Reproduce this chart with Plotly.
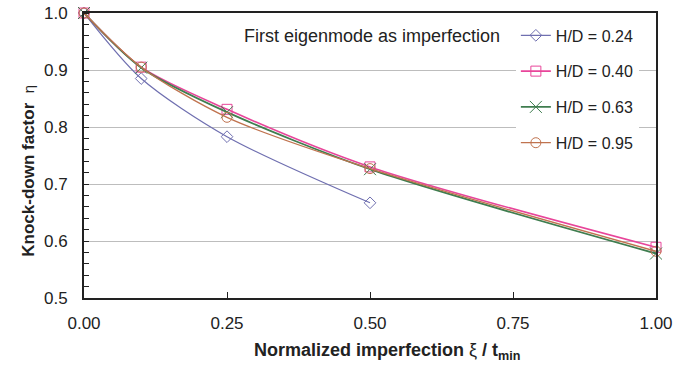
import plotly.graph_objects as go

# Knock-down factor vs normalized imperfection amplitude for several H/D ratios
xi_024 = [0.0, 0.1, 0.25, 0.5]
eta_024 = [1.0, 0.885, 0.783, 0.667]

xi_040 = [0.0, 0.1, 0.25, 0.5, 1.0]
eta_040 = [1.0, 0.905, 0.831, 0.730, 0.589]

xi_063 = [0.0, 0.1, 0.25, 0.5, 1.0]
eta_063 = [1.0, 0.904, 0.826, 0.726, 0.578]

xi_095 = [0.0, 0.1, 0.25, 0.5, 1.0]
eta_095 = [1.0, 0.905, 0.817, 0.727, 0.582]

series = [
    ("H/D = 0.24", xi_024, eta_024, "#6f6fb0", "diamond-open", 9, 1.2),
    ("H/D = 0.40", xi_040, eta_040, "#e8459a", "square-open", 10, 1.6),
    ("H/D = 0.63", xi_063, eta_063, "#3f7d4f", "x-thin-open", 12, 1.8),
    ("H/D = 0.95", xi_095, eta_095, "#c0734f", "circle-open", 10, 1.3),
]

x_ticks = [0.0, 0.25, 0.5, 0.75, 1.0]
x_tick_labels = ["0.00", "0.25", "0.50", "0.75", "1.00"]
y_ticks = [0.5, 0.6, 0.7, 0.8, 0.9, 1.0]
y_tick_labels = ["0.5", "0.6", "0.7", "0.8", "0.9", "1.0"]

FONT = "Liberation Sans, Arial, sans-serif"

fig = go.Figure()
for i, (name, xs, ys, color, symbol, size, lw) in enumerate(series):
    fig.add_trace(go.Scatter(
        x=xs, y=ys, name=name, mode="lines+markers",
        line=dict(color=color, width=lw, shape="spline", smoothing=0.8),
        marker=dict(symbol=symbol, size=size, color=color,
                    line=dict(color=color, width=1)),
        legendgroup=f"g{i}",
        cliponaxis=False,
    ))

fig.add_annotation(
    x=0.277, y=0.96, xref="x", yref="y", xanchor="left", yanchor="middle",
    text="First eigenmode as imperfection", showarrow=False,
    font=dict(family=FONT, size=18, color="#222222"),
)

# Axis titles placed as annotations
fig.add_annotation(
    x=0.531, y=-0.186, xref="paper", yref="paper",
    xanchor="center", yanchor="middle", showarrow=False,
    text="<b>Normalized imperfection</b> ξ <b>/ t<sub>min</sub></b>",
    font=dict(family=FONT, size=18, color="#222222"),
)
fig.add_annotation(
    x=-0.097, y=0.445, xref="paper", yref="paper",
    xanchor="center", yanchor="middle", showarrow=False, textangle=-90,
    text="<b>Knock-down factor</b>  <span style='font-size:15px'>η</span>",
    font=dict(family=FONT, size=17, color="#222222"),
)

fig.update_layout(
    width=692, height=365,
    margin=dict(l=84, r=36, t=13, b=67, autoexpand=False),
    paper_bgcolor="white", plot_bgcolor="white",
    font=dict(family=FONT, size=16, color="#222222"),
    showlegend=True,
    legend=dict(
        x=0.755, y=0.981, xanchor="left", yanchor="top",
        bgcolor="white", borderwidth=0,
        font=dict(family=FONT, size=16, color="#222222"),
        tracegroupgap=12, itemwidth=30,
    ),
    xaxis=dict(
        range=[0, 1], tickvals=x_ticks, ticktext=x_tick_labels,
        ticks="inside", ticklen=6, tickcolor="#222222", tickwidth=1,
        showline=True, linecolor="#222222", linewidth=2, mirror=True,
        showgrid=False, zeroline=False, automargin=False,
        tickfont=dict(size=17), ticklabelstandoff=9,
    ),
    yaxis=dict(
        range=[0.5, 1.0], tickvals=y_ticks, ticktext=y_tick_labels,
        ticks="", showline=True, linecolor="#222222", linewidth=2, mirror=True,
        showgrid=True, gridcolor="#bdbdbd", gridwidth=1, zeroline=False,
        automargin=False,
        tickfont=dict(size=17), ticklabelstandoff=11,
        minor=dict(dtick=0.02, tick0=0.5, ticks="inside", ticklen=5,
                   tickcolor="#222222", tickwidth=1, showgrid=False),
    ),
)

fig.write_html("out.html")
